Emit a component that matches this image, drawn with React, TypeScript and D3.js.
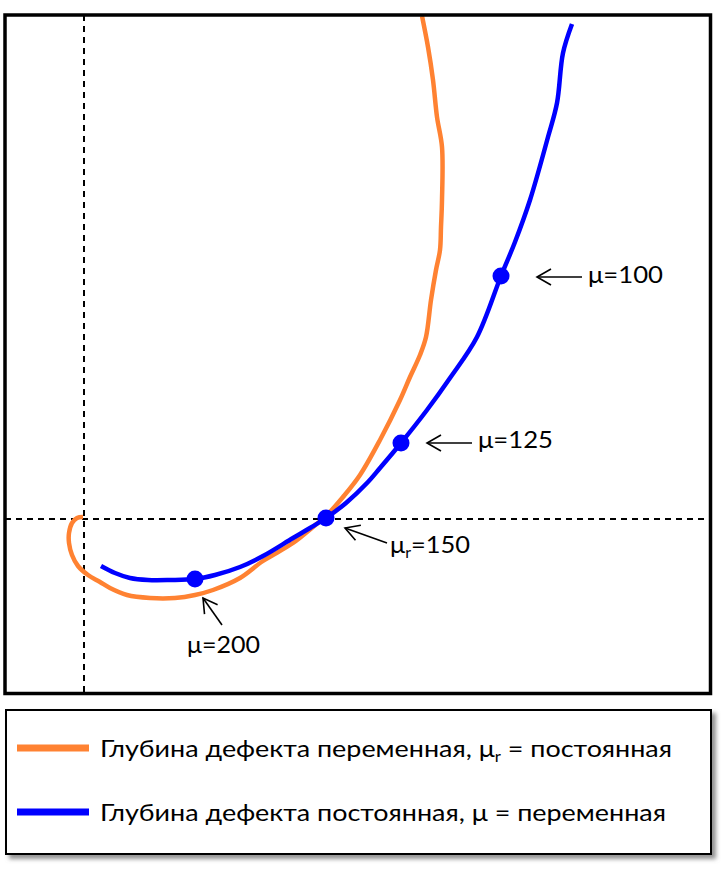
import * as d3 from 'd3';

// curve values (x, y in plot units)
const orangeX = [78, 72, 67, 64, 64, 67, 73, 83, 95, 105, 122, 145, 170, 190, 208, 235, 258, 288, 308, 322, 338, 355, 375, 395, 405, 415, 421, 426, 431, 435, 436, 437, 437, 432, 428, 423, 417];
const orangeY = [176.5, 175.5, 170.5, 160.5, 150.5, 138.5, 127.5, 118.5, 111.5, 105.5, 98.5, 95.5, 95.5, 98.5, 103.5, 115.5, 132.5, 150.5, 166.5, 178.5, 196.5, 218.5, 253.5, 293.5, 316.5, 338.5, 356.5, 393.5, 423.5, 443.5, 466.5, 493.5, 546.5, 576.5, 613.5, 646.5, 677.5];

const blueX = [96, 110, 125, 143, 165, 190, 210, 235, 258, 288, 305, 321, 341, 362, 375, 396, 422, 445, 472, 496, 510, 525, 543, 552, 558, 567];
const blueY = [127.5, 120.5, 115.5, 113.5, 113.5, 114.5, 118.5, 126.5, 137.5, 155.5, 165.5, 175.5, 190.5, 210.5, 225.5, 250.5, 283.5, 315.5, 356.5, 417.5, 451.5, 493.5, 556.5, 590.5, 640.5, 669.5];

const markerX = [496, 396, 321, 190];
const markerY = [417.5, 250.5, 175.5, 114.5];
const markerLabels = ['=100', '=125', '=150', '=200'];
const markerSub = ['', '', 'r', ''];

const refX = 79;
const refY = 174.5;

const legendLabels = ['Глубина дефекта переменная, ', 'Глубина дефекта постоянная, '];
const legendSymbols = ['r', ''];
const legendTails = [' = постоянная', ' = переменная'];

const ORANGE = '#ff8232';
const BLUE = '#0000ff';
const FONT = 'Lato, "Open Sans", sans-serif';

const xScale = d3.scaleLinear().domain([0, 705.5]).range([5, 710.5]);
const yScale = d3.scaleLinear().domain([0, 678.5]).range([693.5, 15]);

// label layout relative to each marker: arrow tail, arrow head, text origin, text width
const labelLayout = [
  { tail: [81, 1], head: [36, 1], text: [87, 7], w: 75 },
  { tail: [71, 0], head: [26, 0], text: [77, 5], w: 75 },
  { tail: [61, 25], head: [19, 10], text: [64, 35], w: 80 },
  { tail: [27, 46], head: [8, 19], text: [-8, 74], w: 73 },
];

function Arrow({ x1, y1, x2, y2 }: { x1: number; y1: number; x2: number; y2: number }) {
  const a = Math.atan2(y2 - y1, x2 - x1);
  const L = 14;
  const W = 8;
  const bx = x2 - L * Math.cos(a);
  const by = y2 - L * Math.sin(a);
  const px = -Math.sin(a) * W;
  const py = Math.cos(a) * W;
  return (
    <g stroke="#000" strokeWidth={1.6} fill="none">
      <line x1={x1} y1={y1} x2={x2} y2={y2} />
      <path d={`M${bx + px},${by + py}L${x2},${y2}L${bx - px},${by - py}`} />
    </g>
  );
}

export default function App() {
  const line = d3
    .line<[number, number]>()
    .x((d) => xScale(d[0]))
    .y((d) => yScale(d[1]))
    .curve(d3.curveCatmullRom.alpha(0.5));

  const orange = orangeX.map((x, i) => [x, orangeY[i]] as [number, number]);
  const blue = blueX.map((x, i) => [x, blueY[i]] as [number, number]);

  const [x0, x1] = xScale.range();
  const [y1, y0] = yScale.range();

  return (
    <svg
      width={725}
      height={869}
      style={{ position: 'absolute', left: 0, top: 0, background: '#fff' }}
      fontFamily={FONT}
    >
      <defs>
        <clipPath id="plot">
          <rect x={x0} y={y0} width={x1 - x0} height={y1 - y0} />
        </clipPath>
        <filter id="shadow" x="-5%" y="-10%" width="115%" height="130%">
          <feDropShadow dx={4} dy={4} stdDeviation={2} floodColor="#777" floodOpacity={0.8} />
        </filter>
      </defs>

      {/* reference lines */}
      <line x1={xScale(refX)} x2={xScale(refX)} y1={y0} y2={y1} stroke="#000" strokeWidth={2} strokeDasharray="6,5" />
      <line x1={x0} x2={x1} y1={yScale(refY)} y2={yScale(refY)} stroke="#000" strokeWidth={2} strokeDasharray="6,5" />

      <g clipPath="url(#plot)">
        <path d={line(orange) ?? ''} fill="none" stroke={ORANGE} strokeWidth={4.5} strokeLinejoin="round" />
        <path d={line(blue) ?? ''} fill="none" stroke={BLUE} strokeWidth={4.5} strokeLinejoin="round" />
      </g>

      {markerX.map((mx, i) => {
        const cx = xScale(mx);
        const cy = yScale(markerY[i]);
        const l = labelLayout[i];
        return (
          <g key={i}>
            <circle cx={cx} cy={cy} r={8.5} fill={BLUE} />
            <Arrow x1={cx + l.tail[0]} y1={cy + l.tail[1]} x2={cx + l.head[0]} y2={cy + l.head[1]} />
            <text x={cx + l.text[0]} y={cy + l.text[1]} fontSize={24} textLength={l.w} lengthAdjust="spacingAndGlyphs">
              <tspan>μ</tspan>
              {markerSub[i] ? (
                <>
                  <tspan fontSize={15} dy={5}>{markerSub[i]}</tspan>
                  <tspan dy={-5}>{markerLabels[i]}</tspan>
                </>
              ) : (
                <tspan>{markerLabels[i]}</tspan>
              )}
            </text>
          </g>
        );
      })}

      {/* plot frame */}
      <rect x={x0} y={y0} width={x1 - x0} height={y1 - y0} fill="none" stroke="#000" strokeWidth={3.5} />

      {/* legend */}
      <rect x={6} y={710} width={705} height={144} fill="#fff" stroke="#000" strokeWidth={2} filter="url(#shadow)" />
      {legendLabels.map((lab, i) => {
        const y = 748 + i * 64;
        return (
          <g key={i}>
            <line x1={17} x2={89} y1={y} y2={y} stroke={i === 0 ? ORANGE : BLUE} strokeWidth={7} />
            <text x={100} y={y + 9} fontSize={24} textLength={i === 0 ? 572 : 566} lengthAdjust="spacingAndGlyphs">
              <tspan>{lab}μ</tspan>
              {legendSymbols[i] ? (
                <>
                  <tspan fontSize={15} dy={5}>{legendSymbols[i]}</tspan>
                  <tspan dy={-5}>{legendTails[i]}</tspan>
                </>
              ) : (
                <tspan>{legendTails[i]}</tspan>
              )}
            </text>
          </g>
        );
      })}
    </svg>
  );
}
